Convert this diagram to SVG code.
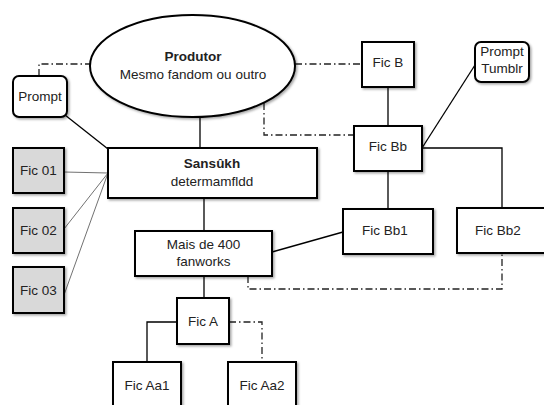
<svg xmlns="http://www.w3.org/2000/svg" width="544" height="405" viewBox="0 0 544 405">
<defs>
<filter id="sh" x="-10%" y="-10%" width="130%" height="130%">
<feDropShadow dx="1.5" dy="1.5" stdDeviation="1" flood-color="#000" flood-opacity="0.35"/>
</filter>
<style>
.box{fill:#fff;stroke:#000;stroke-width:2;filter:url(#sh)}
.gray{fill:#d9d9d9}
.t{font-family:"Liberation Sans",Arial,sans-serif;font-size:13.5px;fill:#222;text-anchor:middle}
.b{font-weight:bold}
.ln{fill:none;stroke:#000;stroke-width:1.3}
.thin{fill:none;stroke:#333;stroke-width:0.7}
.dd{fill:none;stroke:#222;stroke-width:1.3;stroke-dasharray:7 3 1.5 3}
</style>
</defs>
<rect width="544" height="405" fill="#fff"/>
<g id="connectors">
<path class="dd" d="M39,76 V64 H90"/>
<path class="ln" d="M65,115 L108,149"/>
<path class="ln" d="M200,117 V148"/>
<path class="thin" d="M64,172 L108,173"/>
<path class="thin" d="M64,229 L108,173"/>
<path class="thin" d="M64,295 L108,173"/>
<path class="ln" d="M204,198 V231"/>
<path class="ln" d="M204,276 V298"/>
<path class="ln" d="M177,322 H147 V362"/>
<path class="dd" d="M229,322 H262 V362"/>
<path class="dd" d="M248,276 V289 H502 V254"/>
<path class="ln" d="M272,252 L343,232"/>
<path class="dd" d="M295,64 H362"/>
<path class="dd" d="M264,103 V135 H354"/>
<path class="ln" d="M388,87 V126"/>
<path class="ln" d="M422,148 L475,65"/>
<path class="ln" d="M422,148 H502 V208"/>
<path class="ln" d="M388,171 V209"/>
</g>
<g id="produtor">
<ellipse class="box" cx="192.5" cy="66" rx="102.5" ry="51"/>
<text class="t b" x="193" y="61">Produtor</text>
<text class="t" x="193" y="79">Mesmo fandom ou outro</text>
</g>
<g id="prompt">
<rect class="box" x="13" y="76" width="54" height="41" rx="6"/>
<text class="t" x="40" y="101">Prompt</text>
</g>
<g id="sansukh">
<rect class="box" x="108" y="148" width="209" height="50"/>
<text class="t b" x="212" y="168">Sansûkh</text>
<text class="t" x="212" y="186">determamfldd</text>
</g>
<g id="fic01">
<rect class="box gray" x="13" y="148" width="51" height="45"/>
<text class="t" x="38.5" y="175">Fic 01</text>
</g>
<g id="fic02">
<rect class="box gray" x="13" y="208" width="51" height="45"/>
<text class="t" x="38.5" y="235">Fic 02</text>
</g>
<g id="fic03">
<rect class="box gray" x="13" y="267" width="51" height="46"/>
<text class="t" x="38.5" y="295">Fic 03</text>
</g>
<g id="mais">
<rect class="box" x="135" y="231" width="137" height="45"/>
<text class="t" x="203.5" y="249">Mais de 400</text>
<text class="t" x="203.5" y="266">fanworks</text>
</g>
<g id="ficA">
<rect class="box" x="177" y="298" width="52" height="46"/>
<text class="t" x="203" y="326">Fic A</text>
</g>
<g id="ficAa1">
<rect class="box" x="113" y="362" width="68" height="50"/>
<text class="t" x="147" y="390">Fic Aa1</text>
</g>
<g id="ficAa2">
<rect class="box" x="228" y="362" width="68" height="50"/>
<text class="t" x="262" y="390">Fic Aa2</text>
</g>
<g id="ficB">
<rect class="box" x="362" y="42" width="52" height="45"/>
<text class="t" x="388" y="67">Fic B</text>
</g>
<g id="promptTumblr">
<rect class="box" x="475" y="42" width="54" height="40" rx="6"/>
<text class="t" x="502" y="56">Prompt</text>
<text class="t" x="502" y="73">Tumblr</text>
</g>
<g id="ficBb">
<rect class="box" x="354" y="126" width="68" height="45"/>
<text class="t" x="388" y="151">Fic Bb</text>
</g>
<g id="ficBb1">
<rect class="box" x="343" y="209" width="90" height="45"/>
<text class="t" x="385" y="235">Fic Bb1</text>
</g>
<g id="ficBb2">
<rect class="box" x="457" y="208" width="95" height="45"/>
<text class="t" x="498" y="235">Fic Bb2</text>
</g>
</svg>
